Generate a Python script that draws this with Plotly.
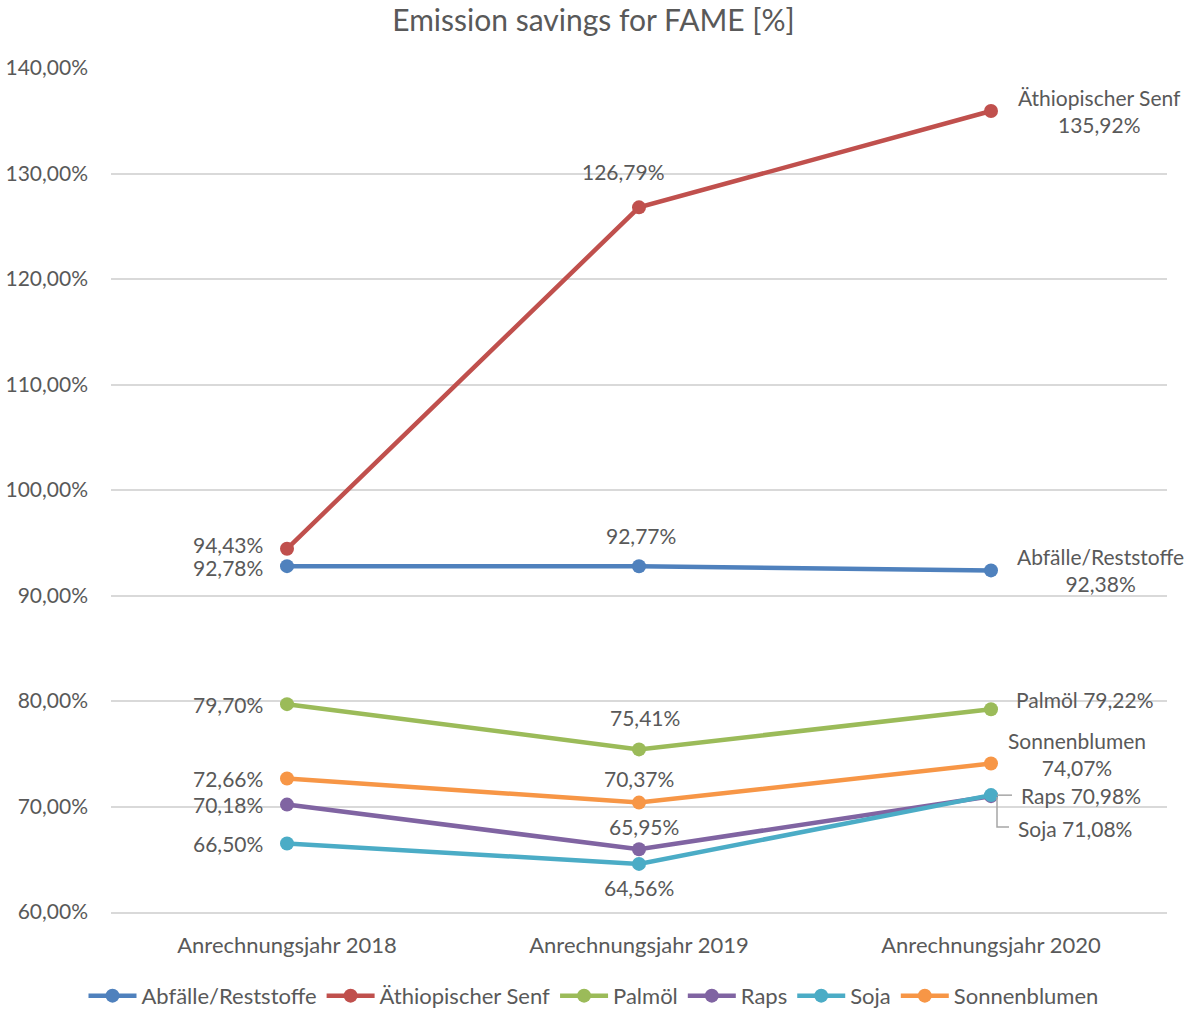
import plotly.graph_objects as go

# Emission savings for FAME by feedstock and reporting year
years = ["Anrechnungsjahr 2018", "Anrechnungsjahr 2019", "Anrechnungsjahr 2020"]

abfaelle = [92.78, 92.77, 92.38]
senf = [94.43, 126.79, 135.92]
palmoel = [79.70, 75.41, 79.22]
raps = [70.18, 65.95, 70.98]
soja = [66.50, 64.56, 71.08]
sonnenblumen = [72.66, 70.37, 74.07]

series_names = ["Abfälle/Reststoffe", "Äthiopischer Senf", "Palmöl", "Raps", "Soja", "Sonnenblumen"]
series_values = [abfaelle, senf, palmoel, raps, soja, sonnenblumen]
colors = ["#4F81BD", "#C0504D", "#9BBB59", "#8064A2", "#4BACC6", "#F79646"]

TEXT = "#595959"
FONT = "Lato"


def pct(v):
    return f"{v:.2f}".replace(".", ",") + "%"


fig = go.Figure()
for name, vals, col in zip(series_names, series_values, colors):
    fig.add_trace(go.Scatter(
        x=years, y=vals, name=name, mode="lines+markers",
        line=dict(color=col, width=4.5),
        marker=dict(color=col, size=14),
        hoverinfo="skip",
    ))

# label placement per series:
# (yshift 2018, xshift 2019, yshift 2019, xshift 2020, yshift 2020, end-label style)
label_style = {
    "Abfälle/Reststoffe": (-1, 2, 31, 109, 0, "break"),
    "Äthiopischer Senf": (4, -16, 36, 108, 0, "break"),
    "Palmöl": (0, 6, 32, 94, 10, "inline"),
    "Raps": (0, 5, 23, 90, 1, "inline"),
    "Soja": (0, 0, -24, 84, -33, "inline"),
    "Sonnenblumen": (0, 0, 24, 86, 10, "break"),
}

annotations = []
for name, vals in zip(series_names, series_values):
    y18, x19, y19, x20, y20, mode = label_style[name]
    annotations.append(dict(x=years[0], y=vals[0], text=pct(vals[0]), xanchor="right",
                            yanchor="middle", xshift=-22, yshift=y18, showarrow=False))
    annotations.append(dict(x=years[1], y=vals[1], text=pct(vals[1]), xanchor="center",
                            yanchor="middle", xshift=x19, yshift=y19, showarrow=False))
    sep = "<br>" if mode == "break" else " "
    annotations.append(dict(x=years[2], y=vals[2], text=name + sep + pct(vals[2]),
                            xanchor="center", yanchor="middle", xshift=x20, yshift=y20,
                            showarrow=False, align="center"))

for a in annotations:
    a["font"] = dict(family=FONT, size=21, color=TEXT)

# leader lines for the crowded Raps / Soja end labels
shapes = [
    dict(type="path", xref="x", yref="y", xsizemode="pixel", ysizemode="pixel",
         xanchor=2, yanchor=raps[2], path="M 6 1 L 21 1",
         line=dict(color="#A6A6A6", width=1.5)),
    dict(type="path", xref="x", yref="y", xsizemode="pixel", ysizemode="pixel",
         xanchor=2, yanchor=soja[2], path="M 6 -2 L 6 -32 L 18 -32",
         line=dict(color="#A6A6A6", width=1.5)),
]

fig.update_layout(
    width=1187, height=1011,
    margin=dict(l=111, r=20, t=68, b=99, autoexpand=False),
    paper_bgcolor="white", plot_bgcolor="white",
    separators=",.",
    font=dict(family=FONT, size=21, color=TEXT),
    title=dict(text="Emission savings for FAME [%]", x=0.5, xanchor="center",
               y=0.98, yanchor="middle", font=dict(family=FONT, size=30, color=TEXT)),
    xaxis=dict(range=[-0.5, 2.5], showgrid=False, showline=True, linecolor="#D9D9D9",
               linewidth=1.5, ticks="", ticklabelstandoff=13,
               tickfont=dict(family=FONT, size=22, color=TEXT)),
    yaxis=dict(range=[60, 140], dtick=10, tickformat=".2f", ticksuffix="%",
               showgrid=True, gridcolor="#D9D9D9", gridwidth=1.5, zeroline=False,
               showline=False, ticks="", ticklabelstandoff=22,
               tickfont=dict(family=FONT, size=21, color=TEXT)),
    legend=dict(orientation="h", x=0.5, xanchor="center", xref="container",
                y=0.015, yanchor="middle", yref="container",
                font=dict(family=FONT, size=22, color=TEXT), itemwidth=48,
                tracegroupgap=0),
    annotations=annotations,
    shapes=shapes,
    showlegend=True,
)

fig.write_html("out.html")
